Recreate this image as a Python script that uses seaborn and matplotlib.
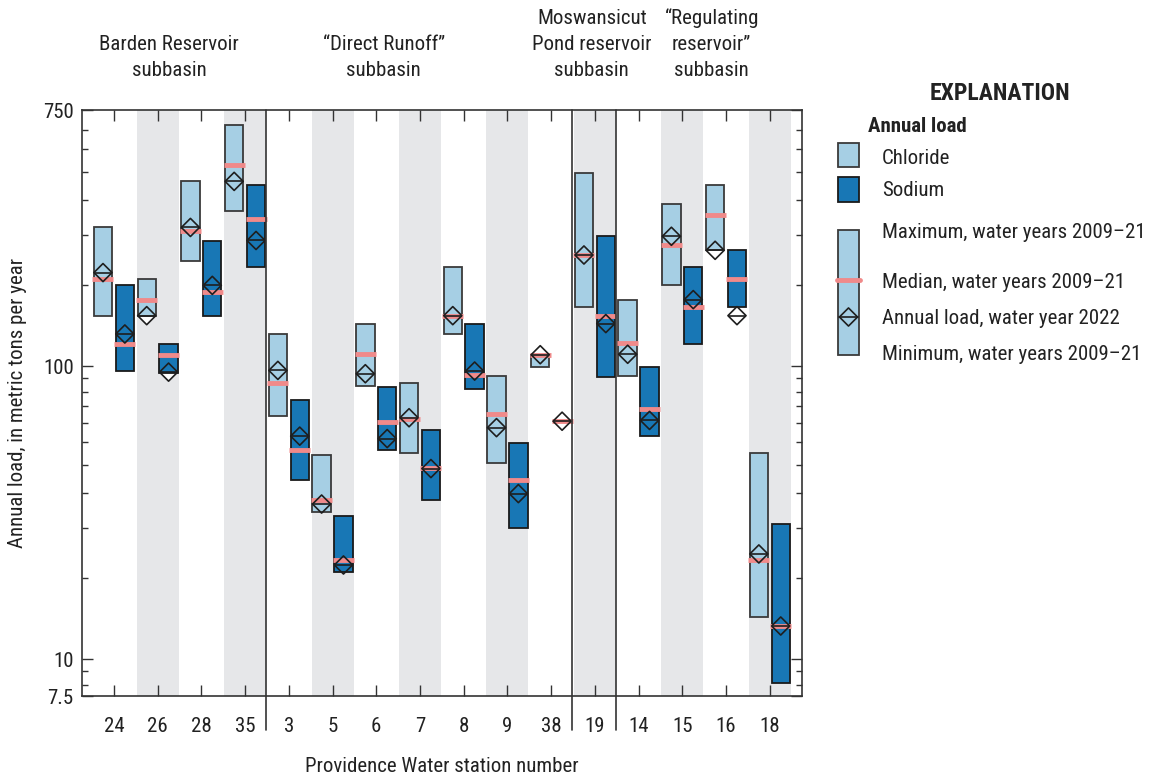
import numpy as np
import pandas as pd
import matplotlib
matplotlib.use("Agg")
import matplotlib.pyplot as plt
import matplotlib.transforms as mtransforms
from matplotlib import font_manager as fm
from matplotlib.patches import Rectangle
from matplotlib.ticker import FixedLocator, FixedFormatter, NullFormatter
import seaborn as sns

# ---------------- data ----------------
stations = ["24", "26", "28", "35", "3", "5", "6", "7", "8", "9", "38", "19", "14", "15", "16", "18"]

cl_max = [298, 199, 428, 667, 129, 49.7, 139, 87.7, 219, 92.7, 109.6, 458, 169, 358, 417, 50.8]
cl_min = [149, 149, 229, 338, 67.9, 31.9, 85.7, 50.8, 129, 46.8, 99.5, 159, 92.7, 189, 249, 14.0]
cl_med = [199, 169, 289, 488, 87.7, 34.9, 110, 66.0, 149, 68.6, 109.6, 240, 120, 259, 328, 21.9]
cl_2022 = [209, 149, 298, 428, 96.9, 33.9, 94.4, 66.8, 149, 61.8, 109.6, 240, 110, 278, 249, 22.9]

na_max = [189, 119.5, 267, 416, 76.6, 30.9, 84.8, 60.8, 139, 54.8, 65, 278, 99.5, 219, 249, 28.9]
na_min = [96.4, 94.9, 149, 219, 40.9, 19.9, 51.7, 34.9, 83.7, 28.0, 65, 91.9, 57.8, 119.5, 159, 8.28]
na_med = [119.5, 109.6, 180, 319, 51.7, 21.9, 64.8, 44.9, 93.7, 40.9, 65, 149, 71.7, 159, 199, 13.0]
na_2022 = [129, 95.6, 189, 269, 57.8, 21.0, 56.7, 44.8, 96.4, 36.8, 65, 140, 65.4, 169, 149, 13.0]

shaded_stations = ["26", "35", "5", "7", "9", "19", "15", "18"]
group_labels = ["Barden Reservoir\nsubbasin", "\u201cDirect Runoff\u201d\nsubbasin",
                "Moswansicut\nPond reservoir\nsubbasin", "\u201cRegulating\nreservoir\u201d\nsubbasin"]
group_centers = [1.26, 6.17, 10.93, 13.67]
group_dividers = [3.48, 10.48, 11.48]

y_major = [7.5, 10, 100, 750]
y_major_labels = ["7.5", "10", "100", "750"]
y_minor = [8.2, 9.1, 19, 28, 37, 46, 55, 64, 73, 82, 91, 190, 280, 370, 460, 550, 640]

# ---------------- style / font ----------------
sns.set_theme(style="white")

entries = fm.fontManager.ttflist
names = {f.name for f in entries}
stretch = "normal"
if "Liberation Sans Narrow" in names:
    fam, FS, LFS = "Liberation Sans Narrow", 15, 15
elif "Roboto Condensed" in names:
    fam, FS, LFS = "Roboto Condensed", 15, 15
elif any(f.name == "Noto Sans" and str(f.stretch) in ("condensed", "semi-condensed", "extra-condensed")
         for f in entries):
    fam, FS, LFS = "Noto Sans", 14.5, 14.5
    stretch = "condensed"
elif any(f.name == "Open Sans" and str(f.stretch) in ("condensed", "semi-condensed")
         for f in entries):
    fam, FS, LFS = "Open Sans", 14, 14
    stretch = "condensed"
else:
    fam, FS, LFS = "Liberation Sans", 14, 13
plt.rcParams["font.family"] = [fam, "DejaVu Sans"]
plt.rcParams["font.stretch"] = stretch

LIGHT = "#a6cfe4"
DARK = "#1877b5"
MED = "#f08a8a"
BAND = "#e6e7e9"
EDGE = "#333333"
TXT = "#222222"

W, H = 1150, 780
fig = plt.figure(figsize=(W / 100, H / 100), dpi=100)
ax = fig.add_axes([82 / W, 1 - 696 / H, (801.7 - 82) / W, (696 - 110) / H])

x = np.arange(len(stations))
off = 0.25
bw = 0.42

# bands
for i, s in enumerate(stations):
    if s in shaded_stations:
        ax.axvspan(i - 0.48, i + 0.48, color=BAND, lw=0, zorder=0)

# 2022 diamonds (white fill underneath)
df = pd.DataFrame({
    "pos": np.r_[x - off, x + off],
    "load": np.r_[cl_2022, na_2022],
})
sns.scatterplot(data=df, x="pos", y="load", marker="D", s=85, color="white",
                edgecolor="none", linewidth=0, zorder=1.5, ax=ax, legend=False)

# bars min->max
cmax, cmin = np.array(cl_max), np.array(cl_min)
nmax, nmin = np.array(na_max), np.array(na_min)
ax.bar(x - off, cmax - cmin, bottom=cmin, width=bw, color=LIGHT, edgecolor="#3a3a3a",
       linewidth=1.3, zorder=2)
ax.bar(x + off, nmax - nmin, bottom=nmin, width=bw, color=DARK, edgecolor="#1a1a1a",
       linewidth=1.3, zorder=2)

# medians
ext = bw / 2 + 0.03
ax.hlines(cl_med, x - off - ext, x - off + ext, colors=MED, lw=3.5, zorder=3)
ax.hlines(na_med, x + off - ext, x + off + ext, colors=MED, lw=3.5, zorder=3)

# diamond outlines and centre lines
ax.scatter(df["pos"], df["load"], marker="D", s=85, facecolors="none",
           edgecolors="#1e1e1e", linewidths=1.2, zorder=4)
ax.scatter(df["pos"], df["load"], marker="_", s=165, color="#1e1e1e",
           linewidths=1.2, zorder=4)

# axes
ax.set_yscale("log")
ax.set_ylim(7.5, 750)
ax.set_xlim(-0.73, 15.73)
ax.yaxis.set_major_locator(FixedLocator(y_major))
ax.yaxis.set_major_formatter(FixedFormatter(y_major_labels))
ax.yaxis.set_minor_locator(FixedLocator(y_minor))
ax.yaxis.set_minor_formatter(NullFormatter())
ax.set_xticks(x)
ax.set_xticklabels(stations)

ax.tick_params(axis="y", which="major", direction="in", length=8, width=1, color=EDGE,
               left=True, right=True, labelsize=FS, pad=6, labelcolor=TXT)
ax.tick_params(axis="y", which="minor", direction="in", length=4.3, width=1, color=EDGE,
               left=True, right=True)
ax.tick_params(axis="x", which="major", direction="in", length=7.7, width=1, color=EDGE,
               top=True, bottom=True, labelsize=FS, pad=15, labelcolor=TXT)
ax.tick_params(axis="x", which="minor", top=False, bottom=False)
for sp in ax.spines.values():
    sp.set_color(EDGE)
    sp.set_linewidth(1.2)
    sp.set_visible(True)

ax.set_xlabel("Providence Water station number", fontsize=FS, color=TXT)
ax.xaxis.set_label_coords(0.5, -0.104)
ax.set_ylabel("Annual load, in metric tons per year", fontsize=FS, color=TXT)
ax.yaxis.set_label_coords(-0.0764, 0.5)

# dividers between subbasins
trans_ax = mtransforms.blended_transform_factory(ax.transData, ax.transAxes)
for xd in group_dividers:
    ax.plot([xd, xd], [1, -0.058], transform=trans_ax, color=EDGE, lw=1.2,
            clip_on=False, zorder=5)

# group headers
trans_fig = mtransforms.blended_transform_factory(ax.transData, fig.transFigure)
for gx, lab in zip(group_centers, group_labels):
    lines = lab.split("\n")
    for k, line in enumerate(reversed(lines)):
        ypx = 70 - 26 * k
        ax.text(gx, 1 - ypx / H, line, transform=trans_fig, ha="center", va="center",
                fontsize=FS, color=TXT, clip_on=False)

# ---------------- explanation ----------------
lg = fig.add_axes([0, 0, 1, 1], facecolor="none")
lg.set_xlim(0, W)
lg.set_ylim(H, 0)
lg.axis("off")
lg.text(1000, 93, "EXPLANATION", ha="center", va="center", fontsize=LFS + 2,
        fontweight="bold", color=TXT)
lg.text(868, 126, "Annual load", ha="left", va="center", fontsize=LFS,
        fontweight="bold", color=TXT)
lg.add_patch(Rectangle((838, 143), 21, 24, facecolor=LIGHT, edgecolor="#3a3a3a", lw=1.3))
lg.text(882, 158, "Chloride", ha="left", va="center", fontsize=LFS, color=TXT)
lg.add_patch(Rectangle((838, 177), 21, 25, facecolor=DARK, edgecolor="#1a1a1a", lw=1.3))
lg.text(882, 190, "Sodium", ha="left", va="center", fontsize=LFS, color=TXT)

lg.add_patch(Rectangle((838, 230), 21, 125, facecolor=LIGHT, edgecolor="#3a3a3a", lw=1.3))
lg.plot([837, 860], [280, 280], color=MED, lw=3.5)
lg.scatter([848.5], [317], marker="D", s=85, facecolors="none", edgecolors="#1e1e1e",
           linewidths=1.2, zorder=4)
lg.plot([839, 858], [317, 317], color="#1e1e1e", lw=1.2)
for ypx, t in [(232, "Maximum, water years 2009\u201321"),
               (282, "Median, water years 2009\u201321"),
               (318, "Annual load, water year 2022"),
               (355, "Minimum, water years 2009\u201321")]:
    lg.text(882, ypx, t, ha="left", va="center", fontsize=LFS, color=TXT)

fig.savefig("out.png", dpi=100)
